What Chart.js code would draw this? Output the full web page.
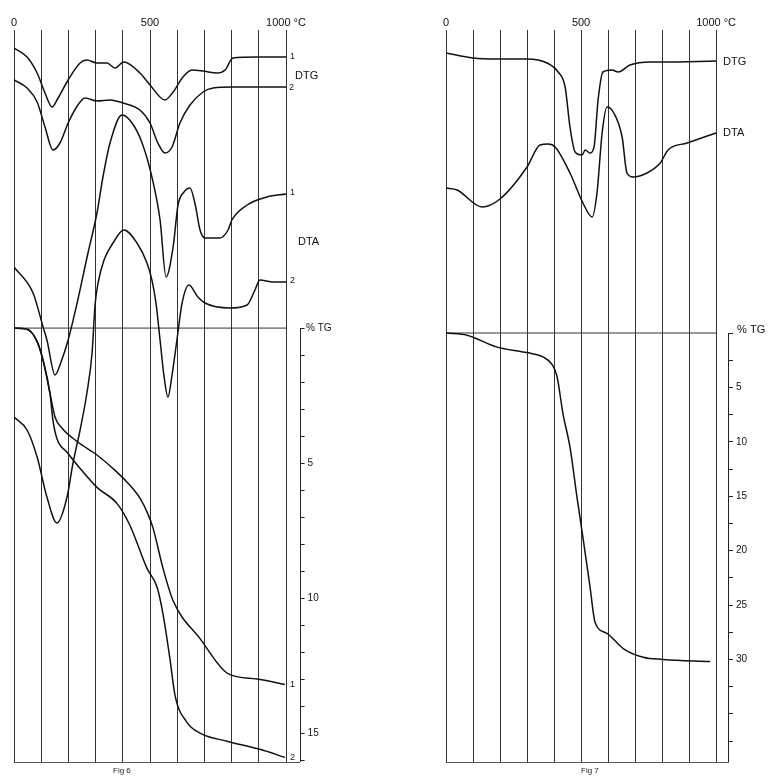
<!DOCTYPE html>
<html lang="en">
<head>
  <meta charset="UTF-8">
  <title>Fig 6 / Fig 7 - DTG, DTA, TG</title>
  <style>
    body {
      margin: 0;
      background: #fff;
      width: 776px;
      height: 781px;
      position: relative;
      overflow: hidden;
      font-family: "Liberation Sans", Arial, sans-serif;
    }
    canvas {
      position: absolute;
      top: 0;
    }
    #fig6 { left: 0; }
    #fig7 { left: 430px; }
    .cap {
      position: absolute;
      top: 766px;
      font-size: 8px;
      color: #222;
    }
  </style>
</head>
<body>
  <canvas id="fig6" width="350" height="781"></canvas>
  <canvas id="fig7" width="346" height="781"></canvas>
  <div class="cap" style="left:113px">Fig 6</div>
  <div class="cap" style="left:581px">Fig 7</div>

  <script src="https://cdn.jsdelivr.net/npm/chart.js"></script>
  <script>
// temperature axis (°C)
const tempTicks = [0, 500, 1000];
const tempTickLabels = ['0', '500', '1000 °C'];

// ---- Fig 6 ----
// DTG / DTA are in arbitrary signal units, TG in % weight loss
const f6Dtg1T = [0, 48, 85, 114, 140, 162, 199, 243, 268, 305, 342, 371, 404, 463, 500, 555, 585, 621, 654, 695, 746, 776, 805, 893, 1000];
const f6Dtg1 = [71.4, 70.5, 68.9, 66.9, 65.5, 66.4, 68.2, 69.9, 70.2, 69.9, 69.9, 69.4, 70.0, 68.9, 67.7, 66.2, 67.0, 68.5, 69.2, 69.1, 68.9, 69.2, 70.4, 70.5, 70.5];

const f6Dtg2T = [0, 48, 85, 114, 143, 169, 199, 235, 261, 305, 353, 401, 463, 500, 529, 555, 581, 610, 647, 695, 732, 805, 1000];
const f6Dtg2 = [68.2, 67.4, 66.0, 63.5, 61.2, 61.9, 63.9, 65.7, 66.4, 66.1, 66.2, 65.9, 65.2, 63.9, 61.9, 60.9, 61.5, 63.9, 65.7, 67.0, 67.4, 67.5, 67.5];

const f6Dta1T = [0, 70, 107, 121, 151, 173, 199, 232, 272, 305, 327, 353, 397, 434, 471, 507, 537, 559, 585, 603, 625, 647, 665, 684, 702, 757, 787, 801, 857, 930, 1000];
const f6Dta1 = [49.5, 46.9, 43.5, 42.2, 38.7, 40.0, 42.2, 45.9, 50.9, 54.9, 58.5, 61.9, 64.7, 63.9, 61.9, 58.5, 54.2, 48.5, 51.5, 55.7, 57.0, 57.4, 55.9, 53.2, 52.4, 52.4, 53.2, 54.2, 55.7, 56.5, 56.8];

const f6Dta2T = [0, 48, 85, 121, 158, 195, 217, 243, 268, 287, 298, 309, 331, 364, 404, 452, 489, 507, 522, 537, 551, 566, 581, 599, 618, 643, 676, 702, 794, 857, 886, 904, 952, 1000];
const f6Dta2 = [34.5, 33.2, 30.5, 26.5, 23.9, 26.5, 29.9, 33.2, 36.9, 40.9, 45.7, 47.9, 50.2, 51.9, 53.2, 51.9, 49.9, 48.2, 45.9, 42.2, 38.7, 36.5, 38.7, 42.2, 45.9, 47.7, 46.5, 45.9, 45.4, 45.7, 47.2, 48.2, 48.0, 48.0];

const f6Tg1T = [0, 48, 85, 107, 132, 151, 176, 232, 305, 364, 415, 463, 493, 511, 548, 585, 684, 787, 893, 996];
const f6Tg1 = [0, 0.04, 0.5, 1.2, 2.4, 3.3, 3.7, 4.2, 4.7, 5.2, 5.7, 6.3, 6.9, 7.4, 8.9, 10.1, 11.5, 12.8, 13.0, 13.2];

const f6Tg2T = [0, 48, 85, 107, 132, 143, 158, 195, 243, 305, 379, 426, 489, 526, 548, 574, 592, 636, 684, 783, 904, 996];
const f6Tg2 = [0, 0.04, 0.5, 1.2, 2.4, 3.4, 4.1, 4.6, 5.2, 5.9, 6.5, 7.3, 8.9, 9.6, 10.6, 12.3, 13.6, 14.6, 15.0, 15.3, 15.6, 15.9];

const f6TgLabels = [5, 10, 15];

// ---- Fig 7 ----
const f7DtgT = [0, 100, 189, 300, 374, 415, 441, 459, 478, 504, 515, 533, 548, 563, 581, 615, 637, 681, 756, 804, 1000];
const f7Dtg = [70.9, 70.4, 70.3, 70.3, 69.9, 69.0, 67.5, 63.5, 61.0, 60.7, 61.2, 60.9, 61.5, 66.2, 69.0, 69.2, 69.0, 69.7, 70.0, 70.0, 70.1];

const f7DtaT = [0, 41, 133, 200, 300, 348, 378, 404, 459, 507, 541, 559, 578, 596, 619, 652, 670, 693, 744, 793, 822, 893, 1000];
const f7Dta = [57.4, 57.2, 55.5, 56.3, 59.5, 61.7, 61.8, 61.5, 58.9, 55.9, 54.5, 56.9, 62.9, 65.5, 65.0, 62.5, 58.9, 58.5, 58.9, 59.9, 61.2, 61.9, 62.9];

const f7TgT = [0, 78, 189, 300, 359, 393, 411, 433, 459, 485, 507, 533, 552, 596, 656, 730, 804, 978];
const f7Tg = [0, 0.2, 1.3, 1.8, 2.2, 2.9, 4.0, 7.4, 10.5, 15.1, 18.8, 23.3, 26.6, 27.6, 29.0, 29.8, 30.0, 30.2];

const f7TgLabels = [5, 10, 15, 20, 25, 30];

const FONT = '"Liberation Sans", Arial, sans-serif';
const INK = '#111';
const GRID = '#333';

function pts(xs, ys) {
  return xs.map((x, i) => ({ x: x, y: ys[i] }));
}

function curve(xs, ys, axis) {
  return {
    data: pts(xs, ys),
    yAxisID: axis,
    borderColor: INK,
    borderWidth: 1.5,
    pointRadius: 0,
    fill: false,
    cubicInterpolationMode: 'monotone'
  };
}

// TG axis line (only from 0 % downwards) and the curve labels
const figExtras = {
  id: 'figExtras',
  afterDatasetsDraw(chart, args, opts) {
    const { ctx, chartArea, scales } = chart;
    const tg = scales.tg;
    const y0 = tg.getPixelForValue(0);
    ctx.save();
    ctx.strokeStyle = '#222';
    ctx.lineWidth = 1;
    ctx.beginPath();
    ctx.moveTo(Math.round(tg.left) + 0.5, y0);
    ctx.lineTo(Math.round(tg.left) + 0.5, chartArea.bottom);
    ctx.stroke();

    ctx.fillStyle = INK;
    ctx.textBaseline = 'middle';
    ctx.textAlign = 'left';
    (opts.items || []).forEach(it => {
      const px = scales.x.getPixelForValue(it.x) + it.dx;
      const py = scales[it.axis].getPixelForValue(it.y);
      ctx.font = it.size + 'px ' + FONT;
      ctx.fillText(it.text, px, py);
    });
    ctx.restore();
  }
};

function drawFig(id, cfg) {
  const ctx = document.getElementById(id).getContext('2d');
  return new Chart(ctx, {
    type: 'line',
    data: { datasets: cfg.datasets },
    options: {
      responsive: false,
      animation: false,
      devicePixelRatio: 1,
      layout: { padding: { left: cfg.padLeft, right: cfg.padRight, top: 0, bottom: 19 } },
      plugins: {
        legend: { display: false },
        tooltip: { enabled: false },
        figExtras: { items: cfg.labels }
      },
      scales: {
        x: {
          type: 'linear',
          position: 'top',
          min: 0,
          max: cfg.xMax,
          border: { display: false },
          grid: { color: GRID, lineWidth: 1, drawTicks: false },
          ticks: {
            stepSize: 100,
            includeBounds: false,
            autoSkip: false,
            maxRotation: 0,
            padding: 0,
            color: INK,
            font: { family: FONT, size: 11 },
            callback: v => {
              const i = tempTicks.indexOf(v);
              return i >= 0 ? tempTickLabels[i] : '';
            }
          },
          afterFit: s => { s.height = 30; }
        },
        xb: {
          type: 'linear',
          position: 'bottom',
          min: 0,
          max: cfg.xMax,
          grid: { display: false },
          ticks: { display: false },
          border: { display: true, color: '#555', width: 1 },
          afterFit: s => { s.height = 0; }
        },
        tg: {
          type: 'linear',
          position: 'right',
          reverse: true,
          min: cfg.tgMin,
          max: cfg.tgMax,
          border: { display: false },
          grid: {
            drawOnChartArea: false,
            tickLength: 5,
            color: c => (c.tick && c.tick.value >= 0 && c.tick.value <= cfg.tgTickEnd) ? '#222' : 'rgba(0,0,0,0)'
          },
          ticks: {
            stepSize: cfg.tgStep,
            includeBounds: false,
            autoSkip: false,
            padding: 3,
            color: INK,
            font: { family: FONT, size: 10 },
            callback: v => cfg.tgLabels.includes(v) ? String(v) : ''
          },
          afterFit: s => { s.width = 40; }
        },
        sig: {
          type: 'linear',
          display: false,
          min: 0,
          max: 73.2
        }
      }
    },
    plugins: [figExtras]
  });
}

drawFig('fig6', {
  padLeft: 14,
  padRight: 10.4,
  xMax: 1050,
  tgMin: -11.04,
  tgMax: 16.07,
  tgStep: 1,
  tgTickEnd: 16,
  tgLabels: f6TgLabels,
  datasets: [
    curve(f6Dtg1T, f6Dtg1, 'sig'),
    curve(f6Dtg2T, f6Dtg2, 'sig'),
    curve(f6Dta1T, f6Dta1, 'sig'),
    curve(f6Dta2T, f6Dta2, 'sig'),
    curve(f6Tg1T, f6Tg1, 'tg'),
    curve(f6Tg2T, f6Tg2, 'tg'),
    { data: pts([0, 1000], [0, 0]), yAxisID: 'tg', borderColor: '#333', borderWidth: 1, pointRadius: 0 }
  ],
  labels: [
    { text: '1', x: 1000, axis: 'sig', y: 70.5, dx: 4, size: 9 },
    { text: 'DTG', x: 1000, axis: 'sig', y: 68.6, dx: 9, size: 11 },
    { text: '2', x: 1000, axis: 'sig', y: 67.4, dx: 3, size: 9 },
    { text: '1', x: 1000, axis: 'sig', y: 56.9, dx: 4, size: 9 },
    { text: 'DTA', x: 1000, axis: 'sig', y: 52.0, dx: 12, size: 11 },
    { text: '2', x: 1000, axis: 'sig', y: 48.1, dx: 4, size: 9 },
    { text: '% TG', x: 1000, axis: 'tg', y: 0, dx: 20, size: 10 },
    { text: '1', x: 1000, axis: 'tg', y: 13.2, dx: 4, size: 9 },
    { text: '2', x: 1000, axis: 'tg', y: 15.9, dx: 4, size: 9 }
  ]
});

drawFig('fig7', {
  padLeft: 16,
  padRight: 8,
  xMax: 1044,
  tgMin: -27.85,
  tgMax: 39.43,
  tgStep: 2.5,
  tgTickEnd: 37.5,
  tgLabels: f7TgLabels,
  datasets: [
    curve(f7DtgT, f7Dtg, 'sig'),
    curve(f7DtaT, f7Dta, 'sig'),
    curve(f7TgT, f7Tg, 'tg'),
    { data: pts([0, 1000], [0, 0]), yAxisID: 'tg', borderColor: '#333', borderWidth: 1, pointRadius: 0 }
  ],
  labels: [
    { text: 'DTG', x: 1000, axis: 'sig', y: 70.0, dx: 7, size: 11 },
    { text: 'DTA', x: 1000, axis: 'sig', y: 62.9, dx: 7, size: 11 },
    { text: '% TG', x: 1000, axis: 'tg', y: -0.3, dx: 21, size: 11 }
  ]
});
  </script>
</body>
</html>
